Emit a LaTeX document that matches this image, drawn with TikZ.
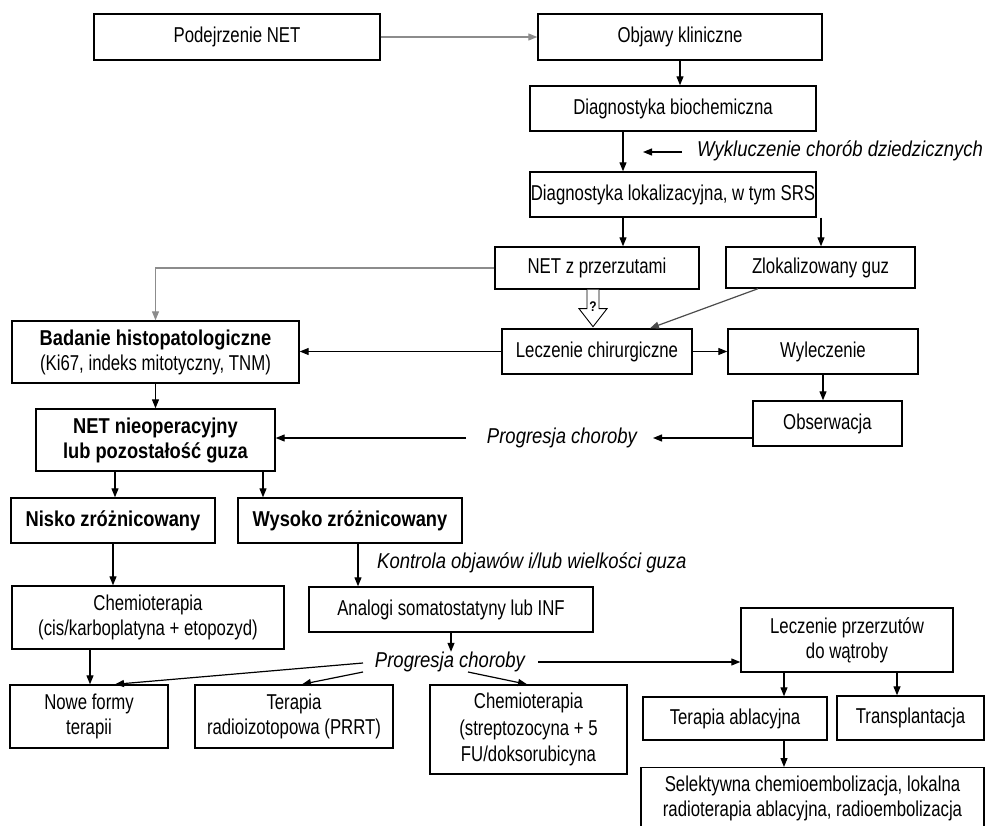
\documentclass[tikz,border=0pt]{standalone}
\usepackage{fontspec}
\setmainfont{Liberation Sans}[FakeStretch=0.78]
\newfontfamily\fBd{Liberation Sans}[FakeStretch=0.85]
\newfontfamily\fIt{Liberation Sans}[FakeStretch=0.86]
\usetikzlibrary{arrows.meta}
\begin{document}
\begin{tikzpicture}[x=1pt,y=-1pt,
  box/.style={draw, line width=1.4pt, inner sep=0pt, align=center,
    font=\fontsize{21.5}{25}\selectfont},
  bbox/.style={box, font=\fBd\bfseries\fontsize{21.5}{25}\selectfont},
  lbl/.style={inner sep=0pt, font=\fIt\itshape\fontsize{21.5}{25}\selectfont},
  arr/.style={line width=1.2pt, -{Triangle[length=9pt,width=7pt]}},
  graycon/.style={arr, color=black!45},
  darkcon/.style={arr, color=black!70},
  hollow/.style={line width=0.9pt, fill=white},
]
\useasboundingbox (0,0) rectangle (985,826);
\clip (0,0) rectangle (985,826);

% boxes
\node[box, minimum width=286pt, minimum height=46pt] (podej) at (237,37) {Podejrzenie NET};
\node[box, minimum width=284pt, minimum height=46pt] (objawy) at (680,37) {Objawy kliniczne};
\node[box, minimum width=286pt, minimum height=45pt] (biochem) at (673,108.5) {Diagnostyka biochemiczna};
\node[box, minimum width=286pt, minimum height=45pt] (lokal) at (673,194.5) {Diagnostyka lokalizacyjna, w tym SRS};
\node[box, minimum width=204pt, minimum height=42pt] (przerz) at (597,268) {NET z przerzutami};
\node[box, minimum width=189pt, minimum height=41pt] (zlok) at (820.5,267.5) {Zlokalizowany guz};
\node[box, minimum width=190pt, minimum height=45pt] (lecz) at (597,351.5) {Leczenie chirurgiczne};
\node[box, minimum width=190pt, minimum height=45pt] (wylecz) at (823,351.5) {Wyleczenie};
\node[box, minimum width=149pt, minimum height=45pt] (obserw) at (827.5,423.5) {Obserwacja};
\node[box, minimum width=287pt, minimum height=62pt] (badanie) at (155.5,352)
  {{\fBd\bfseries Badanie histopatologiczne}\\(Ki67, indeks mitotyczny, TNM)};
\node[bbox, minimum width=239pt, minimum height=62pt] (nieop) at (155.5,440)
  {NET nieoperacyjny\\lub pozostałość guza};
\node[bbox, minimum width=204pt, minimum height=45pt] (nisko) at (113,520.5) {Nisko zróżnicowany};
\node[bbox, minimum width=224pt, minimum height=45pt] (wysoko) at (350,520.5) {Wysoko zróżnicowany};
\node[box, minimum width=272pt, minimum height=63pt] (chemioA) at (148,617.5)
  {Chemioterapia\\(cis/karboplatyna + etopozyd)};
\node[box, minimum width=284pt, minimum height=45pt] (analogi) at (451,609.5) {Analogi somatostatyny lub INF};
\node[box, minimum width=158pt, minimum height=63pt] (nowe) at (89,716.5) {Nowe formy\\terapii};
\node[box, minimum width=198pt, minimum height=63pt] (radio) at (294,716.5) {Terapia\\radioizotopowa (PRRT)};
\node[box, minimum width=197pt, minimum height=89pt, font=\fontsize{21.5}{26.5}\selectfont] (chemioB) at (528.5,729.5)
  {Chemioterapia\\(streptozocyna + 5\\FU/doksorubicyna};
\node[box, minimum width=212pt, minimum height=64pt] (watroba) at (847,640) {Leczenie przerzutów\\do wątroby};
\node[box, minimum width=184pt, minimum height=43pt] (ablac) at (735,718.5) {Terapia ablacyjna};
\node[box, minimum width=147pt, minimum height=44pt] (transpl) at (910.5,718) {Transplantacja};
\node[box, minimum width=343pt, minimum height=62pt, anchor=north] (selekt) at (812.5,767)
  {Selektywna chemioembolizacja, lokalna\\radioterapia ablacyjna, radioembolizacja};

% labels
\node[lbl, anchor=west] (wyklucz) at (697,151) {Wykluczenie chorób dziedzicznych};
\node[lbl] (prog1) at (562,438) {Progresja choroby};
\node[lbl, anchor=west] (kontrola) at (377,563) {Kontrola objawów i/lub wielkości guza};
\node[lbl] (prog2) at (450,662) {Progresja choroby};

% helper coordinates
\coordinate (wA) at (682,152);
\coordinate (wB) at (643,152);
\coordinate (p1a) at (653,438);
\coordinate (p1b) at (466,438);
\coordinate (p2a) at (363,663);
\coordinate (p2b) at (363,672);
\coordinate (p2c) at (468,672);
\coordinate (p2d) at (538,662);
\coordinate (bioS) at ([xshift=-50pt]biochem.south);
\coordinate (lokS1) at ([xshift=-50pt]lokal.south);
\coordinate (lokS2) at ([xshift=148pt]lokal.south);
\coordinate (nieS1) at ([xshift=-40.5pt]nieop.south);
\coordinate (nieS2) at ([xshift=107.5pt]nieop.south);
\coordinate (wysS) at ([xshift=8pt]wysoko.south);
\coordinate (chAS) at ([xshift=-58pt]chemioA.south);
\coordinate (watS1) at ([xshift=-63pt]watroba.south);
\coordinate (watS2) at ([xshift=50pt]watroba.south);
\coordinate (ablS) at ([xshift=49pt]ablac.south);
\coordinate (q) at ([xshift=-4pt]przerz.south);

% connectors
\draw[graycon] (podej.east) -- (objawy.west);
\draw[arr] (objawy.south) -- (objawy.south |- biochem.north);
\draw[arr] (bioS) -- (bioS |- lokal.north);
\draw[arr] (wA) -- (wB);
\draw[arr] (lokS1) -- (lokS1 |- przerz.north);
\draw[arr] (lokS2) -- (lokS2 |- zlok.north);
\draw[graycon] (przerz.west) -| (badanie.north);
\draw[darkcon] ([xshift=-62.5pt]zlok.south) -- ([xshift=53pt]lecz.north);
\draw[arr] (lecz.west) -- (badanie.east |- lecz.west);
\draw[arr] (lecz.east) -- (wylecz.west);
\draw[arr] (wylecz.south) -- (wylecz.south |- obserw.north);
\draw[arr] ([yshift=-14.5pt]obserw.west) -- (p1a);
\draw[arr] (p1b) -- (nieop.east |- p1b);
\draw[arr] (badanie.south) -- (nieop.north);
\draw[arr] (nieS1) -- (nieS1 |- nisko.north);
\draw[arr] (nieS2) -- (nieS2 |- wysoko.north);
\draw[arr] (nisko.south) -- (nisko.south |- chemioA.north);
\draw[arr] (wysS) -- (wysS |- analogi.north);
\draw[arr] (chAS) -- (chAS |- nowe.north);
\draw[arr] (analogi.south) -- (analogi.south |- prog2.north);
\draw[arr] (p2a) -- ([xshift=26pt]nowe.north);
\draw[arr] (p2b) -- ([xshift=8pt]radio.north);
\draw[arr] (p2c) -- ([xshift=-1.5pt]chemioB.north);
\draw[arr] (p2d) -- (watroba.west |- p2d);
\draw[arr] (watS1) -- (watS1 |- ablac.north);
\draw[arr] (watS2) -- (watS2 |- transpl.north);
\draw[arr] (ablS) -- (ablS |- selekt.north);

% hollow arrow with question mark
\draw[hollow] (q) ++(-6,0) -- ++(0,19) -- ++(-8,0) -- ++(14,18) -- ++(14,-18) -- ++(-8,0) -- ++(0,-19);
\node[inner sep=0pt, font=\fBd\bfseries\fontsize{14}{14}\selectfont] (qm) at ([yshift=-17pt]q) {?};
\end{tikzpicture}
\end{document}
